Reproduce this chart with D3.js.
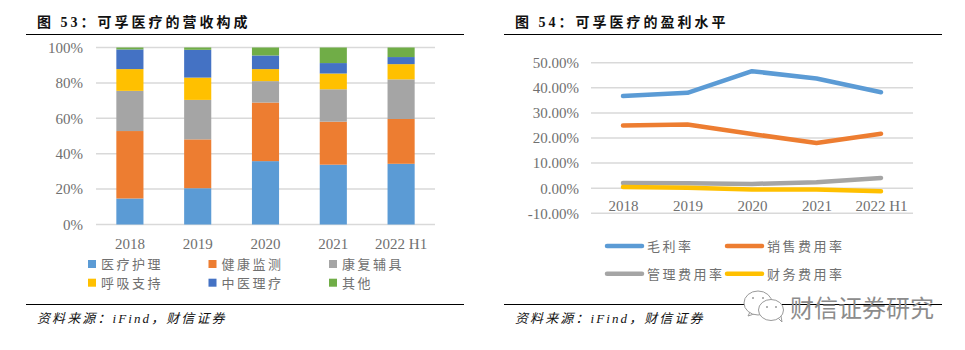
<!DOCTYPE html>
<html>
<head>
<meta charset="utf-8">
<script src="https://cdn.jsdelivr.net/npm/d3@7"></script>
<style>
	html, body { margin: 0; padding: 0; background: #fff; overflow: hidden; }
	svg { display: block; }
	text { font-family: "Liberation Serif", "Noto Sans CJK SC", serif; }
</style>
</head>
<body>
<div id="chart"></div>
<script>
let years = ['2018', '2019', '2020', '2021', '2022 H1']

// revenue share per segment
let revenueNames = ['医疗护理', '健康监测', '康复辅具', '呼吸支持', '中医理疗', '其他']
let huli = [14.7, 20.5, 35.8, 33.8, 34.3]
let jiance = [38.1, 27.6, 33.1, 24.3, 25.3]
let fuju = [22.7, 22.3, 12.1, 18.3, 22.4]
let huxi = [12.3, 12.6, 6.8, 8.9, 8.6]
let zhongyi = [11.1, 15.7, 7.7, 5.9, 4.0]
let qita = [1.1, 1.3, 4.5, 8.8, 5.4]
let revenueValues = [huli, jiance, fuju, huxi, zhongyi, qita]
let revenueTicks = [0, 20, 40, 60, 80, 100]

// margins
let marginNames = ['毛利率', '销售费用率', '管理费用率', '财务费用率']
let maolilv = [36.7, 38.0, 46.6, 43.7, 38.2]
let xiaoshou = [25.0, 25.4, 21.6, 18.0, 21.7]
let guanli = [2.1, 2.0, 1.7, 2.4, 4.1]
let caiwu = [0.5, 0.2, -0.5, -0.5, -1.2]
let marginValues = [maolilv, xiaoshou, guanli, caiwu]
let marginTicks = [-10, 0, 10, 20, 30, 40, 50]

let colors = ['#5b9bd5', '#ed7d31', '#a5a5a5', '#ffc000', '#4472c4', '#70ad47']
let lineColors = colors.slice(0, 4)

let gridColor = '#d9d9d9'
let labelColor = '#707070'

const svg = d3.select('#chart')
	.append('svg')
	.attr('width', 965)
	.attr('height', 350)

function addFrame(left, right, title, source){

	svg.append('line').attr('x1', left).attr('x2', right).attr('y1', 34.5).attr('y2', 34.5)
		.attr('stroke', 'black').attr('stroke-width', 1.2)

	svg.append('line').attr('x1', left).attr('x2', right).attr('y1', 304.5).attr('y2', 304.5)
		.attr('stroke', 'black').attr('stroke-width', 1.2)

	svg.append('text')
		.attr('x', left + 11)
		.attr('y', 27)
		.attr('font-size', 14)
		.attr('font-weight', 'bold')
		.attr('letter-spacing', 3)
		.attr('fill', '#111')
		.text(title)

	svg.append('text')
		.attr('x', left + 11)
		.attr('y', 323)
		.attr('font-size', 13)
		.attr('font-style', 'italic')
		.attr('letter-spacing', 2.1)
		.attr('fill', '#111')
		.text(source)
}

function styleAxis(g){
	g.select('.domain').remove()
	g.selectAll('text')
		.attr('font-size', 15)
		.attr('font-family', '"Liberation Serif", serif')
		.attr('fill', labelColor)
}

function legendText(x, y, label){
	svg.append('text')
		.attr('x', x)
		.attr('y', y + 5)
		.attr('font-size', 13)
		.attr('letter-spacing', 2.5)
		.attr('fill', labelColor)
		.text(label)
}

function createRevenueChart(){

	addFrame(26, 464, '图 53：可孚医疗的营收构成', '资料来源：iFind，财信证券')

	let xScale = d3.scaleBand()
		.domain(years)
		.range([96, 435])
		.paddingInner(0.6)
		.paddingOuter(0.3)

	let yScale = d3.scaleLinear()
		.domain([0, 100])
		.range([224.5, 47.5])

	svg.append('g').selectAll('line')
		.data(revenueTicks)
		.enter()
		.append('line')
		.attr('x1', 96)
		.attr('x2', 435)
		.attr('y1', d => yScale(d))
		.attr('y2', d => yScale(d))
		.attr('stroke', gridColor)
		.attr('stroke-width', 1.5)

	let table = years.map((year, i) => {
		let row = {year: year}
		revenueNames.forEach((name, s) => { row[name] = revenueValues[s][i] })
		return row
	})

	let stacked = d3.stack().keys(revenueNames)(table)

	svg.selectAll('.segment')
		.data(stacked)
		.enter()
		.append('g')
		.attr('fill', (d, i) => colors[i])
		.selectAll('rect')
		.data(d => d)
		.enter()
		.append('rect')
		.attr('x', d => xScale(d.data.year))
		.attr('width', xScale.bandwidth())
		.attr('y', d => yScale(d[1]))
		.attr('height', d => yScale(d[0]) - yScale(d[1]))

	svg.append('g')
		.attr('transform', 'translate(87,0)')
		.call(d3.axisLeft(yScale).tickValues(revenueTicks).tickSize(0).tickPadding(4).tickFormat(d => d + '%'))
		.call(styleAxis)

	svg.append('g')
		.attr('transform', 'translate(0,224.5)')
		.call(d3.axisBottom(xScale).tickSize(0).tickPadding(14))
		.call(styleAxis)

	// legend, two rows of three
	revenueNames.forEach((name, i) => {
		let x = 88 + (i % 3) * 120.5
		let y = 264 + Math.floor(i / 3) * 18.7
		svg.append('rect')
			.attr('x', x)
			.attr('y', y - 4)
			.attr('width', 8)
			.attr('height', 8)
			.attr('fill', colors[i])
		legendText(x + 13, y, name)
	})
}

function createMarginChart(){

	addFrame(504, 942, '图 54：可孚医疗的盈利水平', '资料来源：iFind，财信证券')

	let xScale = d3.scalePoint()
		.domain(years)
		.range([623, 881])

	let yScale = d3.scaleLinear()
		.domain([-10, 50])
		.range([213.3, 62.7])

	svg.append('g').selectAll('line')
		.data(marginTicks)
		.enter()
		.append('line')
		.attr('x1', 591)
		.attr('x2', 913)
		.attr('y1', d => yScale(d))
		.attr('y2', d => yScale(d))
		.attr('stroke', gridColor)
		.attr('stroke-width', 1.5)

	let line = d3.line()
		.x((d, i) => xScale(years[i]))
		.y(d => yScale(d))

	svg.selectAll('.marginLine')
		.data(marginValues)
		.enter()
		.append('path')
		.attr('d', line)
		.attr('fill', 'none')
		.attr('stroke', (d, i) => lineColors[i])
		.attr('stroke-width', 4.5)
		.attr('stroke-linecap', 'round')
		.attr('stroke-linejoin', 'round')

	svg.append('g')
		.attr('transform', 'translate(583,0)')
		.call(d3.axisLeft(yScale).tickValues(marginTicks).tickSize(0).tickPadding(4).tickFormat(d => d.toFixed(2) + '%'))
		.call(styleAxis)

	svg.append('g')
		.attr('transform', `translate(0,${yScale(0)})`)
		.call(d3.axisBottom(xScale).tickSize(0).tickPadding(12))
		.call(styleAxis)

	marginNames.forEach((name, i) => {
		let x = 607 + (i % 2) * 120
		let y = 246 + Math.floor(i / 2) * 27.7
		svg.append('line')
			.attr('x1', x)
			.attr('x2', x + 35)
			.attr('y1', y)
			.attr('y2', y)
			.attr('stroke', lineColors[i])
			.attr('stroke-width', 4.5)
			.attr('stroke-linecap', 'round')
		legendText(x + 40, y, name)
	})
}

function addWatermark(){

	let mark = svg.append('g')
		.attr('fill', '#fff')
		.attr('stroke', '#9a9a9a')
		.attr('stroke-width', 1)

	mark.append('path').attr('d', 'M750 312 L748 316 L754 314 Z')
	mark.append('ellipse').attr('cx', 758).attr('cy', 303).attr('rx', 14).attr('ry', 12)
	mark.append('path').attr('d', 'M778 318 L782 322 L781 316 Z')
	mark.append('ellipse').attr('cx', 771).attr('cy', 310).attr('rx', 12.5).attr('ry', 10.5)

	// eyes of the two bubbles
	mark.selectAll('.eye')
		.data([[753, 298], [763, 298], [767, 307], [776, 307]])
		.enter()
		.append('circle')
		.attr('cx', d => d[0])
		.attr('cy', d => d[1])
		.attr('r', 1)
		.attr('fill', '#9a9a9a')
		.attr('stroke', 'none')

	svg.append('text')
		.attr('x', 790)
		.attr('y', 317)
		.attr('font-size', 24)
		.attr('fill', '#8c8c8c')
		.attr('font-family', '"Noto Sans CJK SC"')
		.text('财信证券研究')
}

createRevenueChart()
createMarginChart()
addWatermark()
</script>
</body>
</html>
